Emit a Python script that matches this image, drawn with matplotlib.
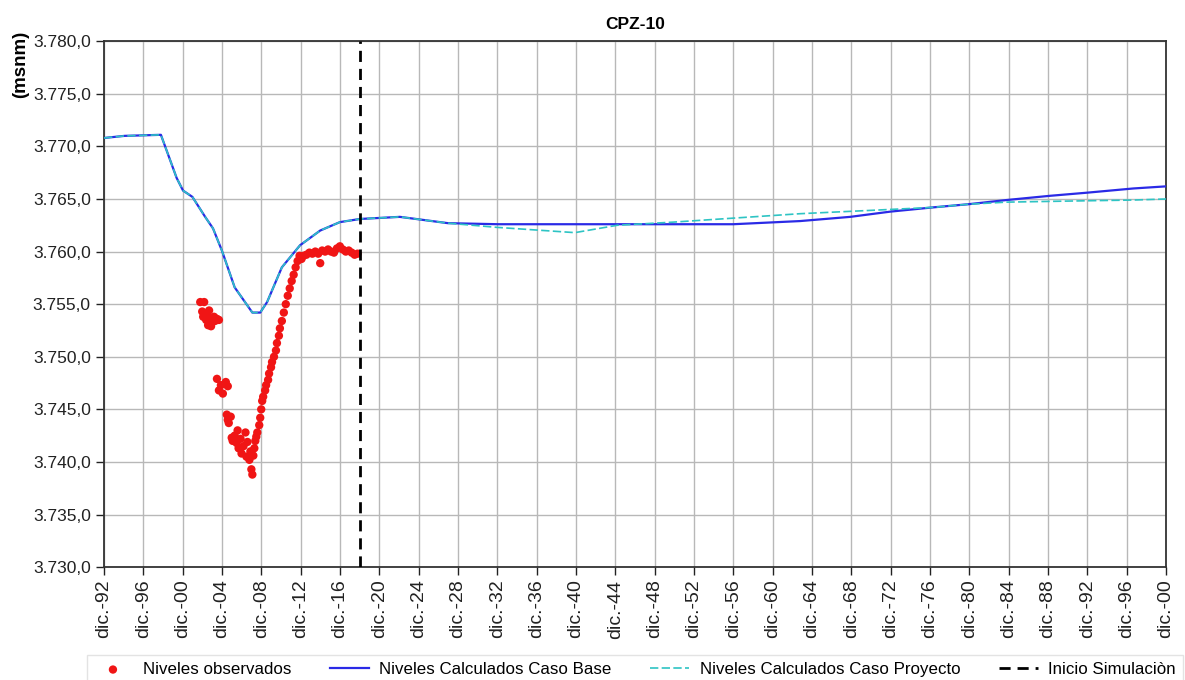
import matplotlib.pyplot as plt
import numpy as np

plt.rcParams['font.family'] = ['Liberation Sans', 'DejaVu Sans']

# decimal years; "dic.-YY" sits at YY + 11/12
obs_year = [2002.7, 2002.9, 2003.0, 2003.1, 2003.2, 2003.3, 2003.4, 2003.5, 2003.6, 2003.7,
            2003.8, 2003.9, 2004.1, 2004.2, 2004.4, 2004.6,
            2004.4, 2004.6, 2004.8, 2005.0, 2005.3, 2005.5,
            2005.4, 2005.5, 2005.6, 2005.8, 2005.9, 2006.0, 2006.2, 2006.4, 2006.5, 2006.6,
            2006.8, 2006.9, 2007.1, 2007.3, 2007.4, 2007.5, 2007.7, 2007.8, 2007.9, 2008.0,
            2008.1, 2008.2, 2008.3, 2008.4, 2008.5, 2008.7, 2008.8, 2008.9, 2009.0, 2009.1,
            2009.3, 2009.4, 2009.6, 2009.7, 2009.9, 2010.0, 2010.2, 2010.4, 2010.5, 2010.7,
            2010.8, 2011.0, 2011.2, 2011.4, 2011.6, 2011.8, 2012.0, 2012.2, 2012.4, 2012.6,
            2012.8, 2013.0,
            2013.2, 2013.5, 2013.8, 2014.1, 2014.4, 2014.7, 2014.9, 2015.1, 2015.4, 2015.7,
            2016.0, 2016.3, 2016.6, 2016.9, 2017.2, 2017.5, 2017.8, 2018.1, 2018.4, 2018.7]
obs_level = [3755.2, 3754.3, 3753.8, 3755.2, 3754.0, 3753.5, 3753.9, 3753.0, 3754.4, 3753.6,
             3752.9, 3753.3, 3753.8, 3753.4, 3753.6, 3753.5,
             3747.9, 3746.8, 3747.3, 3746.5, 3747.6, 3747.2,
             3744.5, 3744.0, 3743.7, 3744.3, 3742.3, 3742.0, 3742.5, 3741.8, 3743.0, 3741.3,
             3742.2, 3740.8, 3741.5, 3742.8, 3740.5, 3741.9, 3740.2, 3741.0, 3739.3, 3738.8,
             3740.6, 3741.3, 3742.0, 3742.4, 3742.8, 3743.5, 3744.2, 3745.0, 3745.8, 3746.2,
             3746.8, 3747.3, 3747.8, 3748.4, 3749.0, 3749.5, 3750.0, 3750.6, 3751.3, 3752.0,
             3752.7, 3753.4, 3754.2, 3755.0, 3755.8, 3756.5, 3757.2, 3757.8, 3758.5, 3759.1,
             3759.6, 3759.3,
             3759.6, 3759.7, 3759.9, 3759.8, 3760.0, 3759.8, 3758.9, 3760.1, 3760.0, 3760.2,
             3760.0, 3759.9, 3760.3, 3760.5, 3760.2, 3760.0, 3760.1, 3759.9, 3759.7, 3759.8]

base_year = [1992.92, 1995.0, 1998.7, 2000.3, 2000.95, 2001.9, 2003.2, 2004.0, 2004.9, 2006.2,
             2008.0, 2008.8, 2009.5, 2011.0, 2012.85, 2014.9, 2016.9, 2018.95, 2023.0, 2027.9,
             2033.0, 2040.8, 2048.5, 2056.9, 2063.7, 2068.8, 2072.9, 2077.2, 2080.8, 2084.7,
             2089.1, 2092.9, 2097.6, 2100.92]
base_level = [3770.8, 3771.0, 3771.1, 3767.0, 3765.8, 3765.2, 3763.3, 3762.2, 3760.1, 3756.6,
              3754.2, 3754.2, 3755.2, 3758.5, 3760.6, 3762.0, 3762.8, 3763.1, 3763.3, 3762.7,
              3762.6, 3762.6, 3762.6, 3762.6, 3762.9, 3763.3, 3763.8, 3764.2, 3764.5, 3764.9,
              3765.3, 3765.6, 3766.0, 3766.2]

proy_year = [1992.92, 1995.0, 1998.7, 2000.3, 2000.95, 2001.9, 2003.2, 2004.0, 2004.9, 2006.2,
             2008.0, 2008.8, 2009.5, 2011.0, 2012.85, 2014.9, 2016.9, 2018.95, 2023.0, 2027.9,
             2032.9, 2040.8, 2045.1, 2050.8, 2063.7, 2070.5, 2077.2, 2080.8, 2084.7, 2090.9,
             2097.6, 2100.92]
proy_level = [3770.8, 3771.0, 3771.1, 3767.0, 3765.8, 3765.2, 3763.3, 3762.2, 3760.1, 3756.6,
              3754.2, 3754.2, 3755.2, 3758.5, 3760.6, 3762.0, 3762.8, 3763.1, 3763.3, 3762.7,
              3762.3, 3761.8, 3762.5, 3762.8, 3763.6, 3763.9, 3764.2, 3764.5, 3764.7, 3764.8,
              3764.9, 3765.0]

inicio_sim = 2018.92

tick_years = list(range(1992, 2101, 4))
tick_labels = ['dic.-%02d' % (y % 100) for y in tick_years]
y_ticks = list(range(3730, 3781, 5))


def fmt_level(v):
    s = '{:,.1f}'.format(v)
    return s.replace(',', 'X').replace('.', ',').replace('X', '.')


fig = plt.figure(figsize=(11.85, 6.8), dpi=100)
ax = fig.add_axes([0.0878, 0.166, 0.8962, 0.7734])

ax.plot(base_year, base_level, color='#2a2ae6', lw=1.6, zorder=3,
        label='Niveles Calculados Caso Base')
ax.plot(proy_year, proy_level, color='#2ec4c4', lw=1.2, ls=(0, (5, 2)), zorder=4,
        label='Niveles Calculados Caso Proyecto')
ax.scatter(obs_year, obs_level, s=36, color='#f01515', edgecolors='none', zorder=5,
           label='Niveles observados')
ax.axvline(inicio_sim, color='black', lw=2, ls=(0, (4, 2.5)), zorder=6,
           label='Inicio Simulaciòn')

ax.set_xlim(1992.92, 2100.92)
ax.set_ylim(3730, 3780)
ax.set_xticks([y + 11 / 12 for y in tick_years])
ax.set_xticklabels(tick_labels, rotation=90, fontsize=14)
ax.set_yticks(y_ticks)
ax.set_yticklabels([fmt_level(v) for v in y_ticks], fontsize=12.5)
ax.tick_params(direction='out', length=6, width=1, colors='#222222')
ax.tick_params(axis='x', pad=3)
ax.grid(True, color='#b8b8b8', lw=1)
ax.set_axisbelow(True)
for side in ['top', 'bottom', 'left', 'right']:
    ax.spines[side].set_color('#333333')
    ax.spines[side].set_linewidth(1.3)

ax.set_title('CPZ-10', fontsize=12.5, fontweight='bold', pad=9)
fig.text(0.010, 0.955, '(msnm)', rotation=90, fontsize=13.5, fontweight='bold',
         va='top', ha='left')

handles, labels = ax.get_legend_handles_labels()
order = [2, 0, 1, 3]
leg = fig.legend([handles[i] for i in order], [labels[i] for i in order],
                 loc='lower left', bbox_to_anchor=(0.066, -0.018), ncol=4,
                 fontsize=12.2, frameon=True, fancybox=False, edgecolor='#dddddd',
                 handlelength=2.3, handletextpad=0.6, columnspacing=2.3, borderpad=0.4)

fig.savefig('out.png', dpi=100)
